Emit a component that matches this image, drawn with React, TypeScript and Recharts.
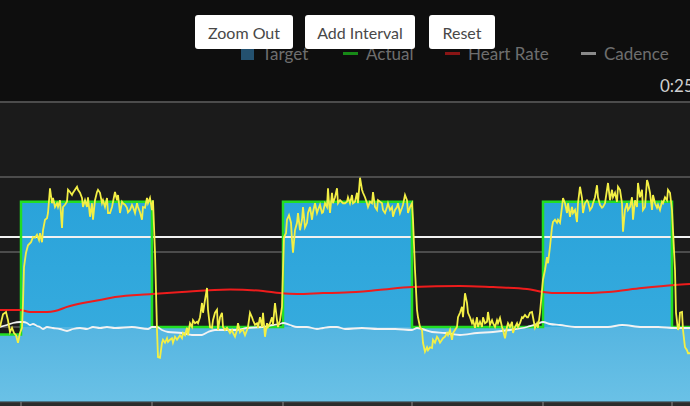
import React from "react";
import {
  ComposedChart,
  Area,
  Line,
  XAxis,
  YAxis,
  CartesianGrid,
  ReferenceLine,
} from "recharts";

// workout steps: start time (s) and target watts for each step
const stepStarts = [0, 21, 152, 283, 412, 543, 672];
const targetWatts = [90, 267, 100, 267, 100, 267, 100];
const restWatts = [90, 100, 100, 100, 100, 100, 100];
const ftpWatts = 220;
const timeTicks = [21, 152, 283, 412, 543, 672];

// [time s, bpm]
const heartRate: [number, number][] = [
  [0, 120.7], [20, 120.7], [30, 120], [47, 120], [55, 120.3], [67, 121.7],
  [83, 123], [100, 124], [115, 125], [152, 126], [182, 126.7], [230, 127.5],
  [263, 127], [280, 126.3], [297, 126], [323, 126.3], [345, 126.5], [378, 127.3],
  [412, 128.3], [460, 128.7], [493, 128.3], [527, 127.7], [543, 126.7], [560, 126.3],
  [575, 126.3], [608, 126.7], [642, 128], [675, 129], [690, 129.3],
];

// [time s, rpm]
const cadence: [number, number][] = [
  [0, 90], [7, 92.4], [13, 94.8], [20, 96], [23, 96], [27, 94.8], [30, 92.4],
  [33, 93.6], [37, 91.2], [40, 90], [43, 87.6], [47, 90], [53, 88.8], [60, 87.6],
  [67, 85.2], [73, 87.6], [80, 88.8], [87, 87.6], [93, 90], [100, 88.8], [107, 90],
  [115, 88.8], [132, 90], [148, 87.6], [152, 90], [157, 90], [162, 86.4], [168, 84],
  [182, 82.8], [192, 80.4], [202, 80.4], [208, 84], [215, 86.4], [230, 86.4],
  [237, 86.4], [247, 88.8], [263, 90], [273, 92.4], [280, 93.6], [283, 94.8],
  [290, 92.4], [297, 90], [307, 90], [317, 87.6], [323, 88.8], [330, 90], [337, 90],
  [345, 87.6], [362, 88.8], [378, 87.6], [395, 87.6], [412, 86.4], [417, 88.8],
  [422, 87.6], [432, 84], [445, 82.8], [460, 80.4], [477, 82.8], [493, 84],
  [510, 86.4], [527, 90], [537, 93.6], [543, 96], [550, 93.6], [560, 92.4],
  [575, 90], [608, 90], [622, 92.4], [642, 90], [658, 90], [675, 88.8], [690, 88.8],
];

// [time s, watts]
const power: [number, number][] = [
  [0, 100], [3, 117], [6, 120], [8, 109], [10, 93], [12, 99], [14, 92], [16, 89], [18, 79], [20, 92],
  [22, 99], [23, 132], [24, 180], [26, 199], [28, 209], [31, 213], [33, 220], [35, 219], [37, 223],
  [39, 216], [40, 225], [42, 213], [43, 229], [45, 243], [47, 245], [48, 252], [50, 285], [52, 265],
  [53, 272], [55, 260], [57, 265], [58, 260], [60, 269], [62, 232], [63, 260], [65, 263], [67, 267],
  [68, 283], [70, 280], [72, 276], [73, 279], [77, 287], [78, 283], [80, 279], [82, 272], [83, 260],
  [85, 269], [87, 260], [88, 273], [90, 247], [92, 265], [93, 243], [95, 269], [97, 280], [98, 283],
  [100, 279], [102, 265], [103, 269], [105, 260], [107, 272], [108, 252], [110, 252], [112, 260],
  [115, 280], [117, 269], [118, 276], [120, 252], [122, 267], [123, 265], [125, 263], [127, 259],
  [128, 253], [130, 256], [132, 263], [133, 260], [135, 252], [137, 265], [138, 260], [140, 253],
  [142, 243], [143, 260], [145, 259], [147, 272], [148, 265], [150, 272], [152, 256], [153, 269],
  [155, 199], [157, 96], [158, 60], [160, 59], [162, 79], [163, 83], [165, 79], [167, 85], [168, 80],
  [170, 83], [172, 85], [173, 79], [175, 87], [177, 83], [178, 85], [180, 89], [182, 85], [183, 92],
  [185, 89], [187, 99], [188, 89], [190, 105], [192, 100], [193, 109], [195, 105], [197, 107],
  [198, 105], [200, 113], [202, 132], [203, 119], [205, 136], [207, 152], [208, 123], [210, 100],
  [212, 99], [213, 109], [215, 119], [217, 123], [218, 96], [220, 113], [222, 119], [223, 100],
  [225, 96], [227, 99], [230, 92], [232, 96], [233, 92], [235, 87], [237, 96], [238, 105], [240, 93],
  [242, 96], [243, 96], [245, 89], [247, 96], [248, 100], [250, 119], [252, 113], [253, 109],
  [255, 103], [257, 105], [258, 99], [260, 113], [262, 100], [263, 119], [265, 87], [267, 105],
  [268, 100], [270, 105], [272, 113], [273, 103], [275, 132], [277, 109], [278, 100], [280, 109],
  [282, 127], [283, 176], [284, 220], [286, 225], [287, 243], [289, 249], [291, 239], [292, 216],
  [293, 199], [295, 229], [297, 239], [298, 252], [300, 229], [302, 243], [303, 260], [305, 233],
  [307, 239], [308, 252], [310, 260], [312, 243], [313, 253], [315, 265], [317, 252], [318, 256],
  [320, 263], [322, 252], [323, 253], [325, 265], [327, 260], [328, 285], [329, 265], [330, 252],
  [332, 279], [333, 265], [335, 273], [337, 285], [338, 265], [340, 269], [343, 265], [345, 265],
  [347, 267], [348, 273], [350, 265], [352, 276], [353, 265], [355, 267], [357, 279], [358, 265],
  [360, 299], [362, 283], [363, 279], [365, 273], [367, 265], [368, 260], [370, 267], [372, 265],
  [373, 280], [375, 260], [377, 256], [378, 269], [380, 267], [382, 265], [383, 256], [385, 252],
  [387, 260], [388, 265], [390, 256], [392, 260], [393, 247], [395, 256], [397, 260], [398, 265],
  [400, 252], [402, 259], [403, 263], [405, 276], [407, 269], [408, 252], [410, 260], [412, 265],
  [413, 243], [415, 176], [417, 123], [418, 113], [420, 100], [422, 96], [423, 79], [425, 67],
  [427, 73], [428, 69], [430, 73], [432, 72], [433, 83], [435, 79], [437, 87], [438, 85], [440, 79],
  [442, 83], [443, 85], [445, 87], [447, 92], [448, 89], [450, 96], [452, 83], [453, 92], [455, 96],
  [457, 100], [458, 113], [460, 119], [462, 127], [463, 113], [465, 145], [467, 132], [468, 119],
  [470, 113], [472, 105], [473, 109], [475, 99], [477, 113], [478, 100], [480, 107], [482, 100],
  [483, 113], [485, 105], [487, 107], [488, 120], [490, 103], [492, 109], [493, 105], [495, 100],
  [497, 109], [498, 105], [500, 112], [502, 100], [503, 96], [505, 85], [507, 100], [508, 105],
  [510, 100], [512, 107], [513, 92], [515, 100], [517, 105], [518, 100], [520, 105], [522, 113],
  [523, 112], [525, 116], [527, 113], [528, 113], [530, 119], [532, 120], [533, 113], [535, 99],
  [537, 105], [538, 99], [540, 119], [542, 149], [543, 163], [545, 176], [547, 193], [548, 185],
  [550, 207], [552, 233], [553, 240], [555, 243], [557, 239], [558, 243], [560, 239], [562, 260],
  [563, 272], [565, 265], [567, 252], [568, 265], [570, 247], [572, 260], [573, 252], [575, 256],
  [577, 240], [578, 265], [580, 287], [582, 272], [583, 252], [585, 265], [587, 269], [588, 267],
  [590, 256], [592, 260], [593, 265], [595, 273], [597, 289], [598, 273], [600, 263], [602, 259],
  [603, 260], [605, 265], [607, 283], [608, 292], [610, 269], [612, 283], [613, 273], [615, 279],
  [617, 267], [618, 287], [620, 283], [622, 265], [623, 227], [625, 256], [627, 265], [628, 256],
  [630, 260], [632, 273], [633, 243], [635, 269], [637, 260], [638, 292], [640, 273], [642, 283],
  [643, 256], [645, 260], [647, 296], [648, 292], [650, 279], [652, 256], [653, 276], [655, 265],
  [657, 259], [658, 263], [660, 256], [662, 267], [663, 265], [665, 273], [667, 269], [668, 283],
  [670, 279], [672, 256], [673, 229], [675, 176], [676, 119], [678, 96], [679, 100], [680, 119],
  [682, 120], [683, 96], [685, 73], [687, 69], [688, 65], [690, 65],
];

const stepAt = (levels: number[], t: number) => {
  let v = levels[0];
  stepStarts.forEach((s, i) => {
    if (t >= s) v = levels[i];
  });
  return v;
};

const powerMap = new Map(power);
const hrMap = new Map(heartRate);
const cadMap = new Map(cadence);
const times = Array.from(
  new Set([
    ...stepStarts,
    ...power.map((p) => p[0]),
    ...heartRate.map((p) => p[0]),
    ...cadence.map((p) => p[0]),
  ])
).sort((a, b) => a - b);

const chartData = times.map((t) => ({
  t,
  target: stepAt(targetWatts, t),
  rest: stepAt(restWatts, t),
  power: powerMap.get(t) ?? null,
  hr: hrMap.get(t) ?? null,
  cadence: cadMap.get(t) ?? null,
}));

const legendItems = [
  { label: "Target", color: "#24516f", left: 241, square: true },
  { label: "Actual", color: "#178a17", left: 343 },
  { label: "Heart Rate", color: "#8a1515", left: 445 },
  { label: "Cadence", color: "#8a8a8a", left: 581 },
];

const buttons = [
  { label: "Zoom Out", left: 195, width: 98 },
  { label: "Add Interval", left: 305, width: 110 },
  { label: "Reset", left: 429, width: 66 },
];

export default function App() {
  return (
    <div
      style={{
        position: "absolute",
        left: 0,
        top: 0,
        width: 690,
        height: 406,
        overflow: "hidden",
        background: "#0e0e0e",
        fontFamily: "Lato, 'Open Sans', sans-serif",
      }}
    >
      <div
        style={{
          position: "absolute",
          left: 0,
          top: 402,
          width: 690,
          height: 4,
          background: "#2c2c2c",
        }}
      />
      <ComposedChart
        width={690}
        height={406}
        data={chartData}
        margin={{ top: 102, right: 0, bottom: 0, left: 0 }}
        style={{ position: "absolute", left: 0, top: 0 }}
      >
        <defs>
          <linearGradient id="blockFill" x1="0" y1="0" x2="0" y2="1">
            <stop offset="0%" stopColor="#2aa3da" />
            <stop offset="100%" stopColor="#3cafe0" />
          </linearGradient>
          <linearGradient id="restFill" x1="0" y1="0" x2="0" y2="1">
            <stop offset="0%" stopColor="#55b5e1" />
            <stop offset="100%" stopColor="#6ac1e6" />
          </linearGradient>
        </defs>
        <CartesianGrid
          yAxisId="w"
          vertical={false}
          stroke="#4c4c4c"
          strokeWidth={2}
          fill="#1b1b1b"
        />
        <XAxis
          dataKey="t"
          type="number"
          domain={[0, 690]}
          ticks={timeTicks}
          height={4}
          tickSize={4}
          tick={() => <g />}
          axisLine={{ stroke: "#2c2c2c" }}
          tickLine={{ stroke: "#8a8a8a" }}
          allowDataOverflow
        />
        <YAxis yAxisId="w" hide domain={[0, 400]} ticks={[0, 100, 200, 300, 400]} allowDataOverflow />
        <YAxis yAxisId="hr" hide domain={[90, 190]} allowDataOverflow />
        <YAxis yAxisId="cad" hide domain={[0, 360]} allowDataOverflow />
        <Area
          yAxisId="w"
          dataKey="target"
          name="Target"
          type="stepAfter"
          stroke="none"
          fill="url(#blockFill)"
          fillOpacity={1}
          isAnimationActive={false}
        />
        <Area
          yAxisId="w"
          dataKey="rest"
          type="stepAfter"
          stroke="none"
          fill="url(#restFill)"
          fillOpacity={1}
          isAnimationActive={false}
          legendType="none"
        />
        <ReferenceLine yAxisId="w" y={ftpWatts} stroke="#f2f2f2" strokeWidth={2} />
        <Line
          yAxisId="w"
          dataKey="target"
          name="Actual"
          type="stepAfter"
          stroke="#22dd22"
          strokeWidth={2.5}
          dot={false}
          isAnimationActive={false}
        />
        <Line
          yAxisId="hr"
          dataKey="hr"
          name="Heart Rate"
          type="monotone"
          stroke="#ee1c1c"
          strokeWidth={2}
          dot={false}
          connectNulls
          isAnimationActive={false}
        />
        <Line
          yAxisId="cad"
          dataKey="cadence"
          name="Cadence"
          type="monotone"
          stroke="#f2f2f2"
          strokeWidth={1.8}
          dot={false}
          connectNulls
          isAnimationActive={false}
        />
        <Line
          yAxisId="w"
          dataKey="power"
          name="Power"
          type="linear"
          stroke="#f3ef45"
          strokeWidth={1.8}
          dot={false}
          connectNulls
          isAnimationActive={false}
        />
      </ComposedChart>

      {/* legend, partly hidden behind the buttons */}
      {legendItems.map((item) => (
        <div
          key={item.label}
          style={{
            position: "absolute",
            left: item.left,
            top: 42,
            height: 22,
            display: "flex",
            alignItems: "center",
            gap: 8,
            fontSize: 17,
            color: "#6e6e6e",
            whiteSpace: "nowrap",
          }}
        >
          <span
            style={{
              display: "inline-block",
              width: item.square ? 13 : 15,
              height: item.square ? 13 : 3,
              background: item.color,
            }}
          />
          {item.label}
        </div>
      ))}

      {buttons.map((b) => (
        <div
          key={b.label}
          style={{
            position: "absolute",
            left: b.left,
            top: 15,
            width: b.width,
            height: 34,
            background: "#ffffff",
            borderRadius: 3,
            display: "flex",
            alignItems: "center",
            justifyContent: "center",
            fontSize: 16,
            color: "#484848",
          }}
        >
          {b.label}
        </div>
      ))}

      <div
        style={{
          position: "absolute",
          left: 660,
          top: 75,
          fontSize: 17,
          color: "#cfcfcf",
          whiteSpace: "nowrap",
        }}
      >
        0:25
      </div>
    </div>
  );
}
